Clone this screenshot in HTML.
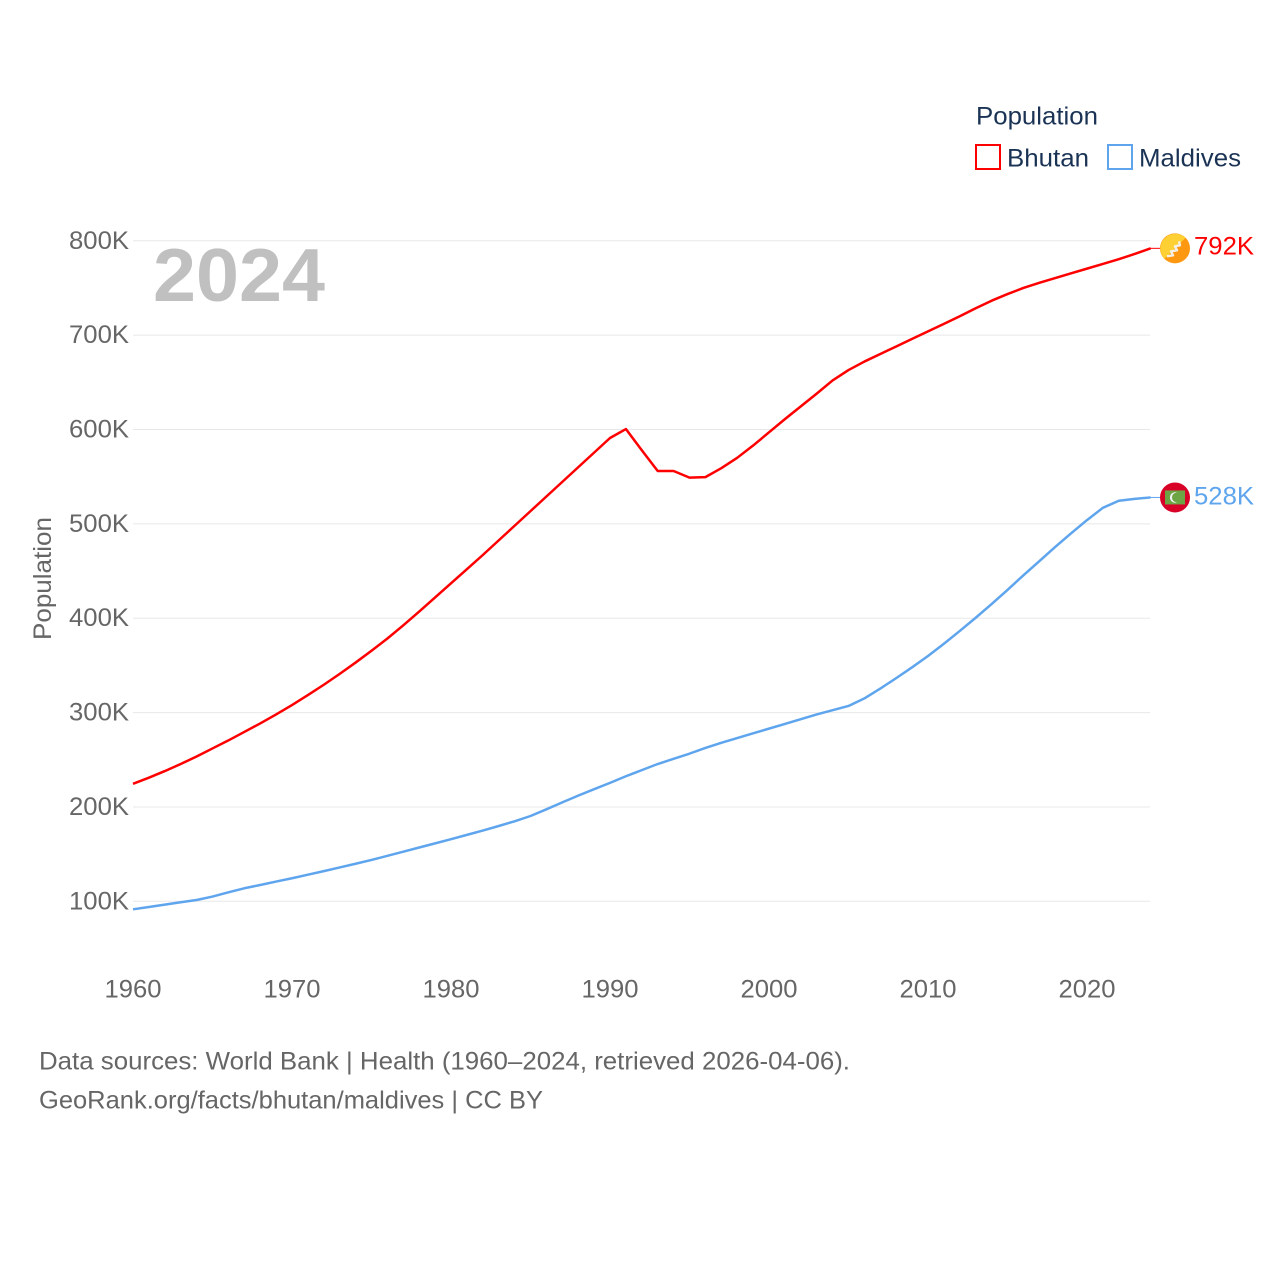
<!DOCTYPE html>
<html lang="en">
<head>
<meta charset="utf-8">
<title>Bhutan and Maldives population, 1960–2024</title>
<style>
html,body{margin:0;padding:0;background:#fff;}
svg{display:block;font-family:"Liberation Sans",sans-serif;}
.tick{font-size:25px;fill:#666;}
.legend{font-size:25px;fill:#1a3355;}
.source{font-size:25px;fill:#666;}
</style>
</head>
<body>
<svg id="chart" xmlns="http://www.w3.org/2000/svg" width="1280" height="1280" viewBox="0 0 1280 1280">
  <rect x="0" y="0" width="1280" height="1280" fill="#ffffff"/>
  <g id="grid"></g>
  <g id="y-ticks"></g>
  <g id="x-ticks"></g>
  <text x="153" y="301" font-size="75" font-weight="700" fill="#c0c0c0" textLength="172" lengthAdjust="spacingAndGlyphs">2024</text>
  <text class="tick" transform="translate(51,640) rotate(-90)" textLength="123" lengthAdjust="spacingAndGlyphs">Population</text>
  <g id="series"></g>
  <g id="end-markers"></g>
  <g>
    <text class="legend" x="976" y="124.5" textLength="122" lengthAdjust="spacingAndGlyphs">Population</text>
    <rect x="976" y="145" width="24" height="24" fill="#fff" stroke="#ff0000" stroke-width="2"/>
    <text class="legend" x="1007" y="166.5" textLength="82" lengthAdjust="spacingAndGlyphs">Bhutan</text>
    <rect x="1108" y="145" width="24" height="24" fill="#fff" stroke="#5fa5ee" stroke-width="2"/>
    <text class="legend" x="1139" y="166.5" textLength="102" lengthAdjust="spacingAndGlyphs">Maldives</text>
  </g>
  <g>
    <text class="source" x="39" y="1069.5" textLength="811" lengthAdjust="spacingAndGlyphs">Data sources: World Bank | Health (1960–2024, retrieved 2026-04-06).</text>
    <text class="source" x="39" y="1108.5" textLength="504" lengthAdjust="spacingAndGlyphs">GeoRank.org/facts/bhutan/maldives | CC BY</text>
  </g>
</svg>
<script>
var firstYear = 1960;
var bhutanValues = [224.5,231,238,245.5,253.5,262,270.5,279.5,288.5,298,308,318.5,329.5,341,353,365.5,378.5,392.5,407,422,437,452,467,482.5,498,513.5,529,544.5,560,575.5,591,600.5,578,556,556,549,549.5,559,570,583,597,611,624.5,638,652,663,672,680,688,696,704,712,720,728.5,736.5,743.5,750,755.5,760.5,765.5,770.5,775.5,780.5,786,792];
var maldivesValues = [91.5,94,96.5,99,101.4,105,109.5,113.8,117.3,120.9,124.4,128.2,132,135.9,139.8,143.8,148.2,152.6,157,161.4,165.8,170.4,175,179.8,184.8,190.4,197.5,204.8,212,218.8,225.5,232.5,239,245.5,251,256.5,262.5,268,273,278,283,288,293,298,302.5,307,315,325.5,336.5,348,360,373,386.5,400.5,415,430,445.5,460.5,475.5,490,504,517,524.5,526.5,528];
var yTickValues = [100,200,300,400,500,600,700,800];
var xTickYears = [1960,1970,1980,1990,2000,2010,2020];

var NS = 'http://www.w3.org/2000/svg';
var plotLeft = 133;
var plotRight = 1150;
var pxPerYear = 15.9;
var pxPerThousand = 0.9436;
var baseY = 901.3;

function xScale(year) { return plotLeft + (year - firstYear) * pxPerYear; }
function yScale(value) { return baseY - (value - 100) * pxPerThousand; }
function make(tag) { return document.createElementNS(NS, tag); }
function formatK(v) { return Math.round(v) + 'K'; }

var gridGroup = document.getElementById('grid');
var yTickGroup = document.getElementById('y-ticks');
yTickValues.forEach(function (v) {
  var line = make('line');
  
  
  line.setAttribute('x1', plotLeft);
  line.setAttribute('x2', plotRight);
  line.setAttribute('y1', yScale(v));
  line.setAttribute('y2', yScale(v));
  line.setAttribute('stroke', '#e8e8e8');
  line.setAttribute('stroke-width', '1');
  gridGroup.appendChild(line);

  var label = make('text');
  
  
  label.setAttribute('class', 'tick');
  label.setAttribute('x', 69);
  label.setAttribute('y', yScale(v) + 8);
  label.setAttribute('textLength', '60');
  label.setAttribute('lengthAdjust', 'spacingAndGlyphs');
  label.textContent = v + 'K';
  yTickGroup.appendChild(label);
});

var xTickGroup = document.getElementById('x-ticks');
xTickYears.forEach(function (year) {
  var label = make('text');
  
  
  label.setAttribute('class', 'tick');
  label.setAttribute('x', xScale(year) - 28.5);
  label.setAttribute('y', 997.5);
  label.setAttribute('textLength', '57');
  label.setAttribute('lengthAdjust', 'spacingAndGlyphs');
  label.textContent = String(year);
  xTickGroup.appendChild(label);
});

function pathFor(values) {
  return values.map(function (v, i) {
    return (i === 0 ? 'M' : 'L') + xScale(firstYear + i).toFixed(2) + ' ' + yScale(v).toFixed(2);
  }).join(' ');
}

var seriesGroup = document.getElementById('series');
var markerGroup = document.getElementById('end-markers');

var bhutanLine = make('path');


bhutanLine.setAttribute('d', pathFor(bhutanValues));
bhutanLine.setAttribute('fill', 'none');
bhutanLine.setAttribute('stroke', '#ff0000');
bhutanLine.setAttribute('stroke-width', '2.5');
bhutanLine.setAttribute('stroke-linejoin', 'round');
seriesGroup.appendChild(bhutanLine);

var maldivesLine = make('path');


maldivesLine.setAttribute('d', pathFor(maldivesValues));
maldivesLine.setAttribute('fill', 'none');
maldivesLine.setAttribute('stroke', '#5fa5ee');
maldivesLine.setAttribute('stroke-width', '2.5');
maldivesLine.setAttribute('stroke-linejoin', 'round');
seriesGroup.appendChild(maldivesLine);

var markerX = 1175;
var bhutanEndY = yScale(bhutanValues[bhutanValues.length - 1]);
var maldivesEndY = yScale(maldivesValues[maldivesValues.length - 1]);

var bhutanLead = make('line');


bhutanLead.setAttribute('x1', plotRight);
bhutanLead.setAttribute('x2', markerX - 15);
bhutanLead.setAttribute('y1', bhutanEndY);
bhutanLead.setAttribute('y2', bhutanEndY);
bhutanLead.setAttribute('stroke', '#ff0000');
bhutanLead.setAttribute('stroke-width', '1');
markerGroup.appendChild(bhutanLead);

var maldivesLead = make('line');


maldivesLead.setAttribute('x1', plotRight);
maldivesLead.setAttribute('x2', markerX - 15);
maldivesLead.setAttribute('y1', maldivesEndY);
maldivesLead.setAttribute('y2', maldivesEndY);
maldivesLead.setAttribute('stroke', '#5fa5ee');
maldivesLead.setAttribute('stroke-width', '1');
markerGroup.appendChild(maldivesLead);

var bhutanFlag = make('g');


bhutanFlag.setAttribute('transform', 'translate(' + markerX + ',' + bhutanEndY + ')');
bhutanFlag.innerHTML =
  '<circle r="15" fill="#ff9811"/>' +
  '<path d="M-10.6 10.6A15 15 0 0 1 10.6 -10.6Z" fill="#ffd034"/>' +
  '<path d="M-8 8L-2 7L-4 3L2 2L0 -2L5 -3L4 -7" fill="none" stroke="#f4f0e4" stroke-width="2.4" stroke-linejoin="round"/>';
markerGroup.appendChild(bhutanFlag);

var maldivesFlag = make('g');


maldivesFlag.setAttribute('transform', 'translate(' + markerX + ',' + maldivesEndY + ')');
maldivesFlag.innerHTML =
  '<circle r="15" fill="#d80027"/>' +
  '<rect x="-10" y="-7" width="20" height="14" fill="#6da544"/>' +
  '<path d="M2 -5A5.3 5.3 0 1 0 2 5A4.2 4.2 0 1 1 2 -5Z" fill="#f0f0f0"/>';
markerGroup.appendChild(maldivesFlag);

var bhutanValueLabel = make('text');


bhutanValueLabel.setAttribute('x', 1194);
bhutanValueLabel.setAttribute('y', bhutanEndY + 6);
bhutanValueLabel.setAttribute('font-size', '25');
bhutanValueLabel.setAttribute('fill', '#ff0000');
bhutanValueLabel.setAttribute('textLength', '60');
bhutanValueLabel.setAttribute('lengthAdjust', 'spacingAndGlyphs');
bhutanValueLabel.textContent = formatK(bhutanValues[bhutanValues.length - 1]);
markerGroup.appendChild(bhutanValueLabel);

var maldivesValueLabel = make('text');


maldivesValueLabel.setAttribute('x', 1194);
maldivesValueLabel.setAttribute('y', maldivesEndY + 7);
maldivesValueLabel.setAttribute('font-size', '25');
maldivesValueLabel.setAttribute('fill', '#5fa5ee');
maldivesValueLabel.setAttribute('textLength', '60');
maldivesValueLabel.setAttribute('lengthAdjust', 'spacingAndGlyphs');
maldivesValueLabel.textContent = formatK(maldivesValues[maldivesValues.length - 1]);
markerGroup.appendChild(maldivesValueLabel);
</script>
</body>
</html>
